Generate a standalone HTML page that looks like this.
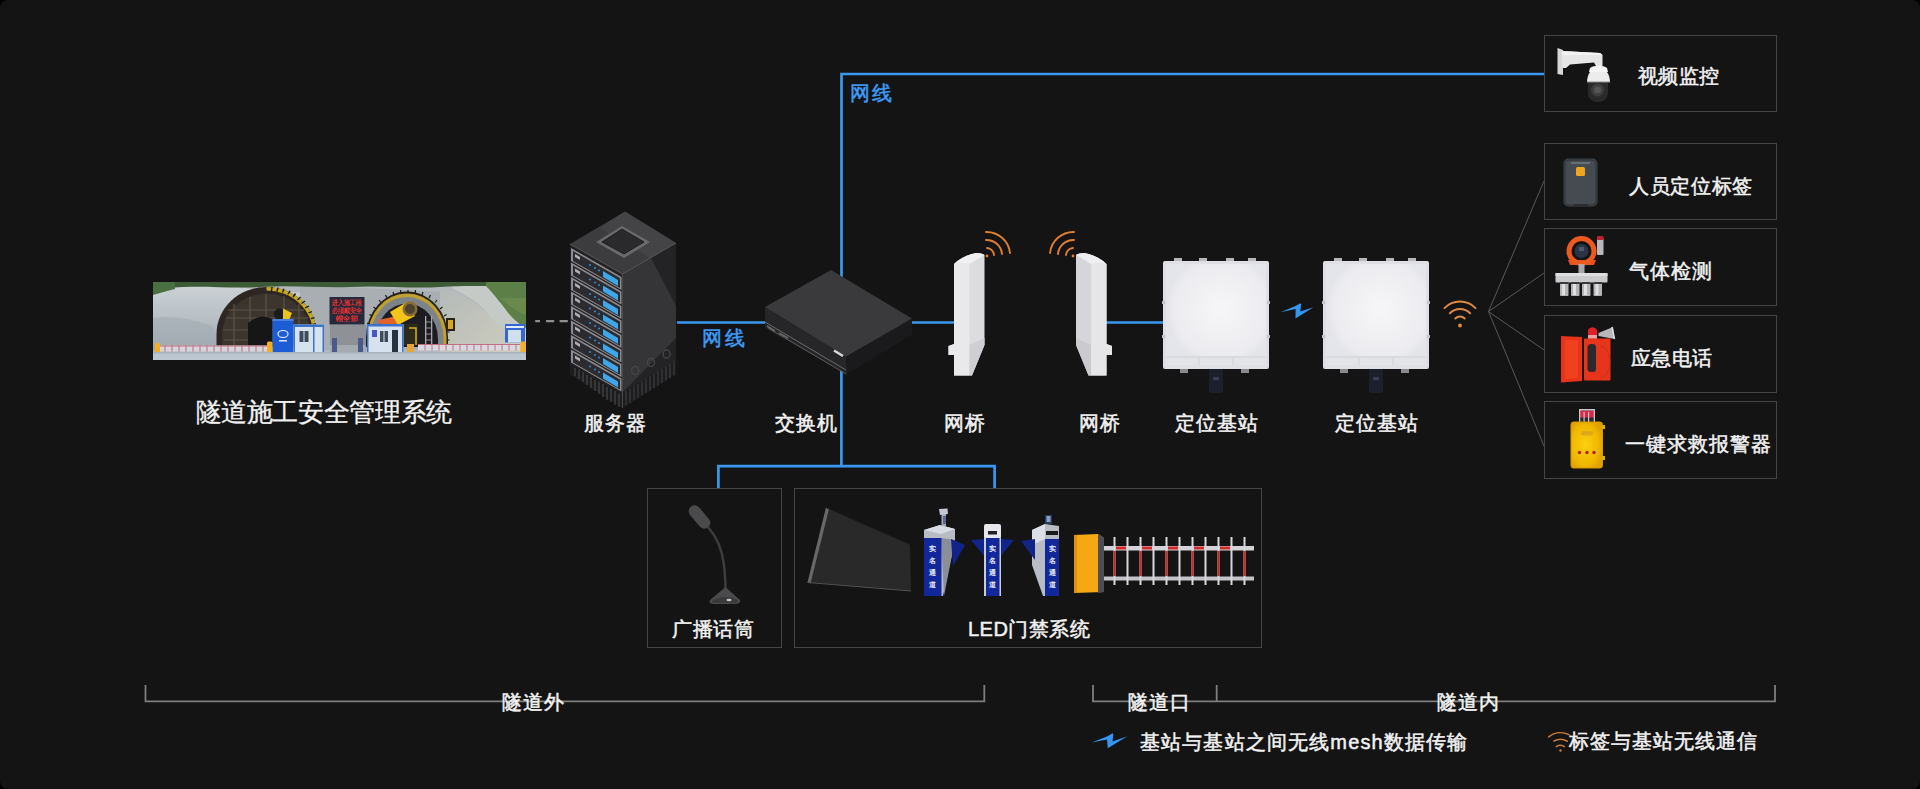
<!DOCTYPE html>
<html><head><meta charset="utf-8">
<style>
html{margin:0;padding:0;background:#000;width:1920px;height:789px;overflow:hidden}
body{margin:0;padding:0;background:#141414;width:1920px;height:789px;overflow:hidden;border-radius:8px}
body{position:relative;font-family:"Liberation Sans",sans-serif;color:#f2f2f2}
.a{position:absolute}
.t{position:absolute;white-space:nowrap;font-size:20px;line-height:1;letter-spacing:1.5px;font-weight:500;-webkit-text-stroke:0.5px currentColor}
.box{position:absolute;border:1.5px solid #454545;box-sizing:border-box}
svg{position:absolute;left:0;top:0}
</style></head><body>
<svg width="1920" height="789" viewBox="0 0 1920 789">
  <!-- blue network lines -->
  <g stroke="#3a98f0" stroke-width="2.7" fill="none">
    <path d="M841.5 282 V74 H1544"/>
    <path d="M677 322.5 H766"/>
    <path d="M911 322.5 H955"/>
    <path d="M1106 322.5 H1163"/>
    <path d="M841.4 360 V466.2 M718.4 488 V466.2 H994.6 V488"/>
  </g>
  <!-- dashed -->
  <path d="M535.2 321.2 H540 M546 321.2 H554.2 M559.6 321.2 H567.8" stroke="#8e8e8e" stroke-width="2.2"/>
  <!-- fan lines -->
  <g stroke="#5a5a5a" stroke-width="1" fill="none">
    <path d="M1488.5 311.5 L1544 181 M1488.5 311.5 L1544 273 M1488.5 311.5 L1544 350 M1488.5 311.5 L1544 446"/>
  </g>
  <!-- brackets -->
  <g stroke="#7e7e7e" stroke-width="1.8" fill="none">
    <path d="M145.5 685 V701.3 H984.3 V685"/>
    <path d="M1093 685 V701.3 H1775 V685 M1216.7 685 V701.3"/>
  </g>
</svg>


<!-- DEVICES -->
<svg width="1920" height="789" viewBox="0 0 1920 789">
 <defs>
  <linearGradient id="bsg" x1="0" y1="0" x2="1" y2="1">
   <stop offset="0" stop-color="#f4f4f7"/><stop offset="0.5" stop-color="#ececf0"/><stop offset="1" stop-color="#e2e3e8"/>
  </linearGradient>
  <radialGradient id="bsr" cx="0.55" cy="0.45" r="0.55">
   <stop offset="0" stop-color="#f6f6f8"/><stop offset="0.85" stop-color="#ececf0"/><stop offset="1" stop-color="#e4e5ea"/>
  </radialGradient>
  <g id="bstation">
   <!-- top tabs -->
   <rect x="11" y="-3" width="8" height="4" fill="#b8b8bc"/>
   <rect x="36" y="-3" width="8" height="4" fill="#b8b8bc"/>
   <rect x="63" y="-3" width="8" height="4" fill="#b8b8bc"/>
   <rect x="85" y="-3" width="8" height="4" fill="#b8b8bc"/>
   <rect x="0" y="0" width="106" height="108" rx="2" fill="#dfe0e4"/>
   <rect x="3" y="3" width="100" height="101" fill="url(#bsr)"/>
   <rect x="3" y="95" width="100" height="9" fill="#e3e4e8"/>
   <path d="M4 96 H102 M36 96 V104 M70 96 V104" stroke="#cfd0d4" stroke-width="1"/>
   <rect x="-1" y="40" width="3" height="3" fill="#c4c4c8"/><rect x="-1" y="74" width="3" height="3" fill="#c4c4c8"/>
   <rect x="104" y="40" width="3" height="3" fill="#c4c4c8"/><rect x="104" y="74" width="3" height="3" fill="#c4c4c8"/>
   <!-- bottom tabs -->
   <rect x="17" y="108" width="8" height="4" fill="#8a8a8e"/><rect x="78" y="108" width="8" height="4" fill="#8a8a8e"/>
   <rect x="46" y="108" width="14" height="24" rx="2" fill="#1d1f2a"/>
   <rect x="50" y="116" width="6" height="3" fill="#3a3e50"/>
  </g>
 </defs>
 <use href="#bstation" x="1163" y="261"/>
 <use href="#bstation" x="1323" y="261"/>


 <!-- tunnel photo -->
 <defs>
  <clipPath id="pc"><rect x="153" y="282" width="373" height="78"/></clipPath>
  <filter id="bl" filterUnits="userSpaceOnUse" x="140" y="270" width="400" height="100"><feGaussianBlur stdDeviation="0.7"/></filter>
  <linearGradient id="mtn" x1="0" y1="0" x2="0" y2="1">
   <stop offset="0" stop-color="#ccd2d6"/><stop offset="0.55" stop-color="#b6bec4"/><stop offset="1" stop-color="#9ea6ae"/>
  </linearGradient>
  <linearGradient id="cliff" x1="0" y1="0" x2="1" y2="1">
   <stop offset="0" stop-color="#b4bab8"/><stop offset="1" stop-color="#cfcdbf"/>
  </linearGradient>
 </defs>
 <g clip-path="url(#pc)">
  <g filter="url(#bl)">
  <rect x="153" y="282" width="373" height="78" fill="#b2b8bd"/>
  <!-- left rubble mound -->
  <path d="M150 292 C170 288 195 285 215 286 C240 287 255 289 270 292 L330 293 L330 350 H150 Z" fill="url(#mtn)"/>
  <path d="M153 318 C175 315 195 320 212 326 L222 345 H153 Z" fill="#a4acb3" opacity="0.6"/>
  <!-- middle rock wall -->
  <path d="M300 287 C330 286 360 288 380 289 L450 292 L450 350 H300 Z" fill="#a9aeb2"/>
  <path d="M330 325 H366 V347 H330 Z" fill="#8e9296"/>
  <!-- right cliff -->
  <path d="M440 287 C455 292 470 298 482 308 C495 320 510 330 526 334 V352 H440 Z" fill="url(#cliff)"/>
  <path d="M452 288 C468 296 480 303 490 316 C500 328 512 334 526 336 V282 H452 Z" fill="#c6cac6"/>
  <!-- vegetation -->
  <path d="M153 282 H526 V286 C500 287 470 285 440 287 C410 289 380 285 350 287 C320 288 290 285 260 287 C230 289 200 285 170 288 L153 289 Z" fill="#3a5a34"/>
  <path d="M153 282 H175 V289 C167 291 160 293 153 295 Z" fill="#4a7040"/>
  <path d="M486 282 H526 V328 C518 324 510 316 503 306 C496 297 490 290 486 286 Z" fill="#5c7e46"/>
  <path d="M500 298 C508 304 516 312 526 315 V298 Z" fill="#6a8a4e"/>
  <!-- tunnel 1 -->
  <path d="M216.5 347 V334 A50 47 0 0 1 316.5 334 V347 Z" fill="#2e2822"/>
  <path d="M266.5 287 A50 47 0 0 1 316.5 334 V347 H313 V334 A46.5 43.5 0 0 0 266.5 290.5 Z" fill="#c8a81e"/>
  <g stroke="#181612" stroke-width="1.3"><path d="M272 287 L271.5 291 M278 287.5 L277 291.5 M284 288.8 L282.5 292.5 M290 290.8 L288 294.3 M295.5 293.5 L293 297 M300.5 297 L297.5 300 M305 301 L301.5 303.5 M309 306 L305 308 M312 311.5 L308.5 313 M314.5 317.5 L311 318.5 M316 324 L312.5 324.5 M316.5 331 L313 331 M316.5 338 L313 338"/></g>
  <path d="M222 347 V335 A44 41 0 0 1 311 335 V347 Z" fill="#3a342e"/>
  <g stroke="#5e564a" stroke-width="1.1" fill="none"><path d="M226 318 H308 M223 330 H311 M234 304 V347 M250 297 V347 M266 294 V347 M284 296 V347 M299 304 V347 M224 340 H311 M228 310 H304"/></g>
  <path d="M248 347 V323 Q260 313 272 319 V347 Z" fill="#121216"/>
  <circle cx="279.5" cy="314" r="5.5" fill="#1a1a1a"/><path d="M283 308.5 L292 313 L289 320 L283 319 Z" fill="#eac414"/>
  <!-- LED sign -->
  <rect x="329.5" y="297" width="35" height="27.5" fill="#262a3a"/>
  <g font-family="Liberation Sans, sans-serif" font-size="7.2" font-weight="700" fill="#e83030">
   <text x="331.5" y="304.5" textLength="31" lengthAdjust="spacingAndGlyphs">进入施工段</text><text x="331.5" y="312.5" textLength="31" lengthAdjust="spacingAndGlyphs">必须戴安全</text><text x="336" y="320.5" textLength="22" lengthAdjust="spacingAndGlyphs">帽全部</text>
  </g>
  <!-- tunnel 2 -->
  <path d="M366 347 V337 A41 45.5 0 0 1 448 337 V347 Z" fill="#2a2418"/>
  <path d="M367.5 347 V337.5 A39.5 44 0 0 1 446.5 337.5 V347 Z" fill="#c0a030"/>
  <g stroke="#1a1a1a" stroke-width="1.2"><path d="M369.5 324 L367 323 M372 316 L369.5 314.5 M376 309 L373.5 307 M381 302.5 L379 300 M387 298 L385.5 295 M394 295 L393 292 M401 293.5 L400.5 290 M408 293 V290 M415 293.5 L415.5 290 M422 295 L423 292 M429 298 L430.5 295 M435 302.5 L437 300 M440 309 L442.5 307 M444 316 L446.5 314.5 M446.5 324 L449 323 M447 332 L449.5 332 M447 340 H449.5"/></g>
  <path d="M370.5 347 V338 A36.5 41 0 0 1 443.5 338 V347 Z" fill="#7c848a"/>
  <path d="M376 347 V339 A31 35.5 0 0 1 438 339 V347 Z" fill="#1c1e22"/>
  <path d="M378 320 L397 316 L401 324 L380 325 Z" fill="#e2642a"/>
  <path d="M390 312 L407 302 L415 316 L398 325 Z" fill="#f2c41a"/>
  <circle cx="410" cy="309" r="7.5" fill="#8a6c32"/><circle cx="410" cy="309" r="5" fill="#4e4230"/>
  <path d="M403 324 H418 V345 H403 Z" fill="#2e2a1c"/>
  <path d="M409 328 H416 V345" stroke="#d8b020" stroke-width="1.5" fill="none"/>
  <rect x="425" y="316" width="1.3" height="30" fill="#a8a8a8"/><rect x="431" y="316" width="1.3" height="30" fill="#a8a8a8"/>
  <g stroke="#a8a8a8" stroke-width="0.8"><path d="M425 322 H432 M425 328 H432 M425 334 H432 M425 340 H432"/></g>
  <rect x="446" y="318" width="9" height="13" fill="#2a2418"/><rect x="448" y="320" width="5" height="9" fill="#d8a820"/>
  <!-- containers -->
  <rect x="272.5" y="319" width="21" height="34" fill="#1e5cd4"/>
  <rect x="272.5" y="319" width="21" height="2" fill="#4a80e0"/>
  <ellipse cx="283" cy="334" rx="5" ry="3.5" fill="none" stroke="#e8eef8" stroke-width="1.2"/>
  <rect x="279" y="340" width="8" height="1.5" fill="#d8e4f8"/>
  <rect x="293.5" y="324.5" width="30.5" height="28.5" fill="#d6e2ee"/>
  <rect x="293.5" y="324.5" width="30.5" height="2.5" fill="#3a72cc"/>
  <rect x="293.5" y="324.5" width="1.5" height="28.5" fill="#3a72cc"/>
  <rect x="299.5" y="331" width="9" height="11" fill="#3e4c5a"/><rect x="303.5" y="331" width="1" height="11" fill="#d6e2ee"/>
  <rect x="313" y="327" width="1.5" height="26" fill="#3a72cc"/><rect x="322.5" y="327" width="1.5" height="26" fill="#3a72cc"/>
  <rect x="367" y="324" width="36.5" height="29" fill="#d6e2ee"/>
  <rect x="367" y="324" width="36.5" height="2.5" fill="#3a72cc"/>
  <rect x="367" y="324" width="1.5" height="29" fill="#3a72cc"/>
  <rect x="372" y="330" width="5" height="7" fill="#4a58c0"/>
  <rect x="380" y="331" width="8" height="11" fill="#3e4c5a"/><rect x="383.5" y="331" width="1" height="11" fill="#d6e2ee"/>
  <rect x="392" y="330" width="6" height="23" fill="#283040"/>
  <rect x="402" y="326" width="1.5" height="27" fill="#3a72cc"/>
  <rect x="505" y="324" width="20" height="18.5" fill="#3566d4"/>
  <rect x="508" y="330" width="13" height="12.5" fill="#cfe0f0"/>
  <rect x="506" y="326" width="18" height="2" fill="#e0ecf8"/>
  <!-- fences -->
  <rect x="160" y="345.5" width="110" height="6" fill="#d6d4dc"/>
  <g stroke="#b86070" stroke-width="0.9"><path d="M165 345.5 V351.5 M172 345.5 V351.5 M179 345.5 V351.5 M186 345.5 V351.5 M193 345.5 V351.5 M200 345.5 V351.5 M207 345.5 V351.5 M214 345.5 V351.5 M221 345.5 V351.5 M228 345.5 V351.5 M235 345.5 V351.5 M242 345.5 V351.5 M249 345.5 V351.5 M256 345.5 V351.5 M263 345.5 V351.5"/></g>
  <rect x="160" y="345.5" width="110" height="1" fill="#c07080"/>
  <rect x="418" y="344" width="102" height="6.5" fill="#dad8e0"/>
  <g stroke="#c06878" stroke-width="0.9"><path d="M425 344 V350.5 M432 344 V350.5 M439 344 V350.5 M446 344 V350.5 M453 344 V350.5 M460 344 V350.5 M467 344 V350.5 M474 344 V350.5 M481 344 V350.5 M488 344 V350.5 M495 344 V350.5 M502 344 V350.5 M509 344 V350.5 M516 344 V350.5"/></g>
  <rect x="418" y="344" width="102" height="1" fill="#c07080"/>
  <rect x="330" y="345" width="36" height="7" fill="#a4aab0"/>
  <rect x="332" y="338" width="5" height="14" fill="#4a5a8a"/><rect x="358" y="338" width="5" height="14" fill="#4a5a8a"/>
  <rect x="155" y="343" width="5" height="12" rx="1.5" fill="#f0b020"/>
  <rect x="267" y="341.5" width="5.5" height="13" rx="1.5" fill="#f0b020"/>
  <rect x="520.5" y="341.5" width="5.5" height="12.5" rx="1.5" fill="#f0b020"/>
  <rect x="407" y="344" width="7" height="10" fill="#e0a838"/>
  <!-- ground -->
  <rect x="153" y="353" width="373" height="7" fill="#bcc6d0"/>
  <rect x="153" y="352" width="373" height="1.5" fill="#a8b2bc"/>
  </g>
 </g>
 <!-- server -->
 <g id="server">
  <!-- left face -->
  <path d="M570 244 L622.5 274 L622.5 408 L570 374 Z" fill="#222224"/>
  <!-- right face -->
  <path d="M622.5 274 L676 243 L676 374 L622.5 408 Z" fill="#232325"/>
  <path d="M622.5 274 L651 258 L676 306 L676 338 L624 391 L622.5 391 Z" fill="#353537"/>
  <path d="M622.5 393 L676 361 L676 374 L622.5 408 Z" fill="#1c1c1e"/>
  <g stroke="#434345" stroke-width="1"><path d="M626 391 V405 M630 389 V403 M634 386.5 V400.5 M638 384 V398 M642 381.5 V395.5 M646 379 V393 M650 376.5 V390.5 M654 374 V388 M658 371.5 V385.5 M662 369 V383 M666 366.5 V380.5 M670 364 V378 M674 361.5 V375.5"/></g>
  <!-- top face -->
  <path d="M625 211.5 L676 243 L622.5 274 L570 244 Z" fill="#3c3c3e"/>
  <path d="M625 211.5 L676 243 L650 258 L600 228 Z" fill="#444446"/>
  <path d="M622 226 L650 242 L624 258 L596 242 Z" fill="#6a6a6c"/>
  <path d="M622 229 L644 242 L624 254 L602 242 Z" fill="#2a2a2c" stroke="#1e1e20" stroke-width="1" stroke-linejoin="round"/>
  <!-- rack units -->
  <g id="ru">
   <path d="M571 248 L621.5 277 L621.5 290 L571 261 Z" fill="#8c8c90"/>
   <path d="M573 251 L620 278 L620 288 L573 261 Z" fill="#2c2c30"/>
   <path d="M575 254 L580 257 L580 260 L575 257 Z" fill="#b0b0b4"/>
   <path d="M603 271 L618 280 L618 286 L603 277 Z" fill="#3ea6ea"/>
   <circle cx="590" cy="265" r="1" fill="#2f8fd8"/><circle cx="595" cy="268" r="1" fill="#2f8fd8"/><circle cx="599" cy="270.5" r="1" fill="#2f8fd8"/>
  </g>
  <use href="#ru" y="14.5"/><use href="#ru" y="29"/><use href="#ru" y="43.5"/><use href="#ru" y="58"/><use href="#ru" y="72.5"/><use href="#ru" y="87"/><use href="#ru" y="101.5"/>
  <!-- vent grill -->
  <path d="M571 365 L621.5 394 L621.5 407 L571 373 Z" fill="#1c1c1e"/>
  <g stroke="#505052" stroke-width="1">
   <path d="M575 368 V376 M579 370 V379 M583 372 V382 M587 375 V385 M591 377 V388 M595 380 V391 M599 382 V394 M603 384 V397 M607 387 V400 M611 389 V402 M615 391 V405 M619 394 V407"/>
  </g>
  <!-- circles on right face -->
  <g fill="none" stroke="#4a4a4c" stroke-width="1.2">
   <ellipse cx="635.2" cy="370.5" rx="3.5" ry="4.2"/><ellipse cx="651" cy="362.5" rx="3.5" ry="4.2"/><ellipse cx="666.6" cy="354" rx="3.5" ry="4.2"/>
  </g>
  <path d="M622.5 274 V408" stroke="#4a4a4c" stroke-width="1"/>
  <path d="M570 244 L622.5 274 L676 243" stroke="#58585a" stroke-width="1" fill="none"/>
 </g>
 <!-- switch -->
 <g id="switch">
  <path d="M765 307 L846 356.5 L847 374 L765 328 Z" fill="#262628"/>
  <path d="M846 356.5 L912 318.5 L912 334.5 L847 374 Z" fill="#1a1a1c"/>
  <path d="M831 270 L912 318.5 L846 356.5 L765 307 Z" fill="#3a3a3c"/>
  <path d="M765 322 L846 370" stroke="#6a6a6a" stroke-width="1"/>
  <path d="M768 328 L846 374" stroke="#5a5a5a" stroke-width="1"/>
  <path d="M834 350.5 L843 356" stroke="#d8d8d8" stroke-width="2.5"/>
  <path d="M767 326 L775 331 M779 333 L788 338" stroke="#6a6a6a" stroke-width="1.5"/>
 </g>

 <!-- camera -->
 <g id="camera">
  <path d="M1557.5 48 L1563 50 L1563 75 L1557.5 74 Z" fill="#d8d8d8"/>
  <path d="M1562 51 L1600 53 L1602.5 55 L1602.5 66 L1596 66 L1594 62.5 L1570 64.5 L1566 68 L1562 68 Z" fill="#e6e6e6"/>
  <path d="M1562 51 L1600 53 L1602.5 55 L1562 55 Z" fill="#f2f2f2"/>
  <path d="M1587 82 A11.5 15 0 0 1 1610 82 Z" fill="#ececec"/>
  <path d="M1590 68 A10 5 0 0 1 1607 68 L1608 72 L1589 72 Z" fill="#f4f4f4"/>
  <path d="M1588 82 H1608 V94 A10 8 0 0 1 1588 94 Z" fill="#2a2a2a"/>
  <circle cx="1597.5" cy="90" r="6.5" fill="#3e3e3e"/>
  <circle cx="1597.5" cy="90" r="3.5" fill="#555"/>
  <path d="M1587 82 H1610" stroke="#8a8a8a" stroke-width="1"/>
 </g>
 <!-- tag -->
 <g id="tag">
  <rect x="1563.5" y="158.5" width="34" height="48" rx="5" fill="#3e4449"/>
  <rect x="1565" y="160" width="31" height="45" rx="4" fill="#454b50" stroke="#2a2e31" stroke-width="0.8"/>
  <path d="M1571 163 H1590" stroke="#7a8a90" stroke-width="1.2"/>
  <rect x="1576" y="167" width="9" height="9" rx="1.5" fill="#f0a51e"/>
  <rect x="1574" y="204" width="14" height="2.5" fill="#2a2e31"/>
 </g>
 <!-- gas detector -->
 <g id="gas">
  <rect x="1597" y="238" width="6.5" height="17" rx="1" fill="#b8b8bc"/>
  <rect x="1597" y="236" width="6.5" height="4" rx="1" fill="#c02030"/>
  <path d="M1568 260 H1596 L1594 265 H1570 Z" fill="#e8501e"/>
  <circle cx="1581.5" cy="251" r="12.5" fill="none" stroke="#ec5a20" stroke-width="5"/>
  <circle cx="1581.5" cy="251" r="7" fill="#2a3444"/>
  <rect x="1579" y="247" width="5" height="4" fill="#4a5a70"/>
  <rect x="1578.5" y="264" width="6" height="9" fill="#a8a8aa"/>
  <rect x="1555.5" y="273" width="52" height="9.5" rx="1" fill="#cacacc"/>
  <rect x="1555.5" y="273" width="52" height="3" fill="#dedee0"/>
  <g fill="#b4b4b6"><rect x="1560" y="282" width="8.5" height="14" rx="1"/><rect x="1571" y="282" width="8.5" height="14" rx="1"/><rect x="1582" y="282" width="8.5" height="14" rx="1"/><rect x="1593.5" y="282" width="8.5" height="14" rx="1"/></g>
  <g fill="#e0e0e2"><rect x="1562" y="284" width="3" height="11"/><rect x="1573" y="284" width="3" height="11"/><rect x="1584" y="284" width="3" height="11"/><rect x="1595.5" y="284" width="3" height="11"/></g>
  <g fill="#3a3a3c"><rect x="1560" y="282" width="8.5" height="2"/><rect x="1571" y="282" width="8.5" height="2"/><rect x="1582" y="282" width="8.5" height="2"/><rect x="1593.5" y="282" width="8.5" height="2"/></g>
 </g>
 <!-- emergency phone -->
 <g id="phone">
  <path d="M1561 336 L1582 337 L1582 381 L1561 382.5 Z" fill="#e83318"/>
  <path d="M1565 340 L1578 340.5 L1578 378 L1565 379 Z" fill="#f04020"/>
  <rect x="1584" y="338.5" width="26.5" height="42" rx="1" fill="#e8341a"/>
  <rect x="1587.5" y="344" width="8.5" height="28" rx="3.5" fill="#2a2a2e"/>
  <path d="M1600 346 A10 16 0 0 1 1600 378" fill="none" stroke="#c8301c" stroke-width="1"/>
  <path d="M1588 330 A5 5 0 0 1 1597 330 V338.5 H1588 Z" fill="#e02028"/>
  <rect x="1588" y="335" width="9" height="3.5" fill="#f0a0a0"/>
  <path d="M1598.5 333 L1613 327 L1614.5 339 L1598.5 336 Z" fill="#b8b8bc"/>
  <path d="M1612 327 L1614.5 339" stroke="#e0e0e0" stroke-width="1.5"/>
 </g>
 <!-- alarm -->
 <g id="alarm">
  <defs><radialGradient id="ylg" cx="0.45" cy="0.5" r="0.6"><stop offset="0" stop-color="#fcd010"/><stop offset="0.7" stop-color="#f0b800"/><stop offset="1" stop-color="#e0a000"/></radialGradient></defs>
  <rect x="1579" y="409" width="16" height="13.5" rx="1.5" fill="#2a2a2c"/>
  <rect x="1579" y="410.5" width="16" height="7" fill="#d82848"/>
  <g fill="#c8c8cc"><rect x="1579" y="409" width="16" height="1.5"/><rect x="1579" y="409" width="1.3" height="13.5"/><rect x="1583.5" y="412" width="1.2" height="10.5"/><rect x="1588" y="412" width="1.2" height="10.5"/><rect x="1593.7" y="409" width="1.3" height="13.5"/></g>
  <rect x="1571" y="422" width="31.5" height="46" rx="2.5" fill="url(#ylg)"/>
  <rect x="1571" y="422" width="31.5" height="46" rx="2.5" fill="none" stroke="#d89800" stroke-width="1"/>
  <rect x="1581" y="431" width="12" height="4.5" rx="2.2" fill="#dca818"/>
  <g fill="#b82020"><circle cx="1579.5" cy="452.5" r="1.7"/><circle cx="1587" cy="452.5" r="1.7"/><circle cx="1594" cy="452.5" r="1.7"/></g>
  <rect x="1602" y="425" width="3" height="4" fill="#e0b000"/><rect x="1602" y="456" width="3" height="4" fill="#e0b000"/>
 </g>

 <!-- mic -->
 <g id="mic">
  <path d="M708 527 C716 536 722 548 724 565 C725 575 725.5 582 725.5 590" fill="none" stroke="#3e3e40" stroke-width="2.4"/>
  <rect x="693.5" y="503.5" width="12" height="27" rx="6" transform="rotate(-40 699.5 517)" fill="#4a4a4c"/>
  <path d="M725.5 587 L740 600 Q741 604 735 604 L714 604 Q708 604 710 600 Z" fill="#4a4a4c"/>
  <path d="M713 600 Q725 594 738 600 L737 603 H712 Z" fill="#3a3a3c"/>
  <ellipse cx="729" cy="600" rx="2.5" ry="1.2" fill="#c8c8c8"/>
 </g>
 <!-- LED screen -->
 <g id="led">
  <path d="M826 507.5 L910 544.5 L911 591 L807.5 582.5 Z" fill="#292929"/>
  <path d="M826 507.5 L829 509 L810.5 583.5 L807.5 582.5 Z" fill="#68686a"/>
  <path d="M807.5 582.5 L911 591" stroke="#505052" stroke-width="1.2"/>
  <path d="M826 507.5 L910 544.5" stroke="#1c1c1c" stroke-width="1"/>
 </g>
 <!-- gates -->
 <g id="gates">
  <!-- gate1 -->
  <path d="M924 530 L940 525 L955 529 L955 540 L943 596 L941 596 L941 538 L924 538 Z" fill="#b8bcc4"/>
  <path d="M941 538 L955 540 L944 596 Z" fill="#8a8e98"/>
  <path d="M924 530 L940 525 L955 529 L941 534 Z" fill="#d8dce4"/>
  <rect x="941.5" y="512" width="4.5" height="14" fill="#a4a8b0"/><path d="M939 509 L947.5 508.5 L948 514 L940 515 Z" fill="#c4c8d0"/><rect x="943" y="516" width="3" height="8" fill="#5a6a90"/>
  <path d="M951 539 L965 545 L953 566 Z" fill="#12238a"/>
  <rect x="924" y="538" width="17.5" height="58" fill="#12289a"/>
  <!-- gate2 -->
  <rect x="984" y="524" width="17" height="15" rx="2" fill="#e8e8ec"/>
  <rect x="988" y="531" width="9" height="3.5" fill="#222"/>
  <path d="M985 539 L971 540 L985 557 Z" fill="#12238a"/>
  <path d="M1000 539 L1014 540 L1000 557 Z" fill="#12238a"/>
  <rect x="984" y="538" width="17" height="58" fill="#c8ccd4"/>
  <rect x="986" y="538" width="13.5" height="58" fill="#12289a"/>
  <!-- gate3 -->
  <path d="M1032 530 L1045 524 L1059 526 L1059 539 L1045 539 L1045 596 L1043 596 L1032 565 Z" fill="#b8bcc4"/>
  <path d="M1032 530 L1045 524 L1045 539 L1032 545 Z" fill="#dcdfe6"/>
  <rect x="1045" y="515" width="7" height="9" fill="#2a3a5a"/><rect x="1046.5" y="516" width="4" height="6" fill="#8aa0c8"/>
  <rect x="1046" y="531" width="12" height="4" fill="#1a1a1a"/>
  <path d="M1035 539 L1021 541 L1035 560 Z" fill="#12238a"/>
  <rect x="1045" y="539" width="14" height="57" fill="#12289a"/>
  <g font-family="Liberation Sans, sans-serif" font-size="7" font-weight="700" fill="#e8ecf8" text-anchor="middle">
   <text x="932.5" y="551">实</text><text x="932.5" y="563">名</text><text x="932.5" y="575">通</text><text x="932.5" y="587">道</text>
   <text x="992.5" y="551">实</text><text x="992.5" y="563">名</text><text x="992.5" y="575">通</text><text x="992.5" y="587">道</text>
   <text x="1052" y="551">实</text><text x="1052" y="563">名</text><text x="1052" y="575">通</text><text x="1052" y="587">道</text>
  </g>
 </g>
 <!-- barrier -->
 <g id="barrier">
  <path d="M1074 535 L1098 534 L1104 538 L1104 592 L1074 593 Z" fill="#f5a814"/>
  <path d="M1098 534 L1104 538 L1104 592 L1098 593 Z" fill="#4a4e58"/>
  <rect x="1074" y="535" width="3" height="58" fill="#e09010"/>
  <rect x="1104" y="546" width="150" height="4.5" fill="#d4d4d8"/>
  <rect x="1104" y="576.5" width="150" height="4" fill="#c4c4c8"/>
  <g fill="#d02a2a"><rect x="1116" y="546.5" width="10" height="3"/><rect x="1142" y="546.5" width="10" height="3"/><rect x="1168" y="546.5" width="10" height="3"/><rect x="1194" y="546.5" width="10" height="3"/><rect x="1220" y="546.5" width="10" height="3"/></g>
  <g fill="#d8d8dc"><rect x="1113.5" y="537" width="2" height="48"/><rect x="1126.5" y="537" width="2" height="48"/><rect x="1139.5" y="537" width="2" height="48"/><rect x="1152.5" y="537" width="2" height="48"/><rect x="1165.5" y="537" width="2" height="48"/><rect x="1178.5" y="537" width="2" height="48"/><rect x="1191.5" y="537" width="2" height="48"/><rect x="1204.5" y="537" width="2" height="48"/><rect x="1217.5" y="537" width="2" height="48"/><rect x="1230.5" y="537" width="2" height="48"/><rect x="1243.5" y="537" width="2" height="48"/></g>
  <g fill="#c82a2a"><rect x="1113.5" y="551" width="2" height="25"/><rect x="1139.5" y="551" width="2" height="25"/><rect x="1165.5" y="551" width="2" height="25"/><rect x="1191.5" y="551" width="2" height="25"/><rect x="1217.5" y="551" width="2" height="25"/><rect x="1243.5" y="551" width="2" height="25"/></g>
 </g>
 <!-- legend icons -->
 <path d="M1091.7 742.6 L1107.5 736.2 L1112.6 733.3 L1113.3 734.5 L1112.5 741.4 L1127.3 736.2 L1107.8 748.3 L1107 739.6 Z" fill="#3396f2"/>
 <g stroke="#c8783a" stroke-width="1.6" fill="none" stroke-linecap="round">
  <path d="M1548.7 736.8 A19.6 19.6 0 0 1 1569 734.6"/>
  <path d="M1554 741 A13.5 13.5 0 0 1 1567.3 741.2"/>
  <path d="M1556.3 746.6 A7.2 7.2 0 0 1 1564.3 746.6"/>
 </g>
 <circle cx="1560.5" cy="750.5" r="1.2" fill="#d08040"/>
 <!-- bridges -->
 <g id="bridge1">
  <path d="M954 264 Q962 256 976 253 Q982 253 984.5 255 L984.5 345 L972 375.5 L954 375.5 L954 355 L948.5 355 L948.5 346 L954 344 Z" fill="#dcdcdf"/>
  <path d="M954 264 Q958 262 969.5 264 L969.5 375.5 L954 375.5 L954 355 L948.5 355 L948.5 346 L954 344 Z" fill="#e9e9eb"/>
  <path d="M954 264 Q962 256 976 253 Q982 253 984.5 255 L969.5 264 Q958 262 954 264 Z" fill="#f1f1f3"/>
  <path d="M969.5 345 L984.5 338 L984.5 345 L972 375.5 L969.5 375.5 Z" fill="#cfcfd3"/>
 </g>
 <g transform="translate(2060.5 0) scale(-1 1)">
  <path d="M954 264 Q962 256 976 253 Q982 253 984.5 255 L984.5 345 L972 375.5 L954 375.5 L954 355 L948.5 355 L948.5 346 L954 344 Z" fill="#d6d6da"/>
  <path d="M954 264 Q958 262 969.5 264 L969.5 375.5 L954 375.5 L954 355 L948.5 355 L948.5 346 L954 344 Z" fill="#e6e6e9"/>
  <path d="M954 264 Q962 256 976 253 Q982 253 984.5 255 L969.5 264 Q958 262 954 264 Z" fill="#eeeef0"/>
  <path d="M969.5 345 L984.5 338 L984.5 345 L972 375.5 L969.5 375.5 Z" fill="#cbcbcf"/>
 </g>
 <!-- wifi arcs bridges -->
 <g stroke="#e07f30" stroke-width="1.9" fill="none" stroke-linecap="round">
  <path d="M987 248 A7.5 7.5 0 0 1 994 255"/>
  <path d="M986 240 A15.5 15.5 0 0 1 1002 254"/>
  <path d="M986 232 A23.5 23.5 0 0 1 1010 253"/>
  <path d="M1073 248 A7.5 7.5 0 0 0 1066 255"/>
  <path d="M1074 240 A15.5 15.5 0 0 0 1058 254"/>
  <path d="M1074 232 A23.5 23.5 0 0 0 1050 253"/>
 </g>
 <circle cx="987" cy="256" r="1.4" fill="#e07f30"/>
 <circle cx="1073" cy="256" r="1.4" fill="#e07f30"/>
 <!-- lightning between base stations -->
 <path d="M1280.6 312.3 L1295.5 306 L1300.3 303.3 L1301.2 304.5 L1300.2 311.4 L1313.5 307.2 L1295.5 318.5 L1295.6 309 Z" fill="#3396f2"/>
 <!-- wifi after base station 2 -->
 <g stroke="#e08a40" stroke-width="2" fill="none" stroke-linecap="round">
  <path d="M1444.5 308.1 A21.5 21.5 0 0 1 1475.5 308.1"/>
  <path d="M1449.9 313.3 A14 14 0 0 1 1470.1 313.3"/>
  <path d="M1455.3 318.5 A6.5 6.5 0 0 1 1464.7 318.5"/>
 </g>
 <circle cx="1460" cy="325.5" r="1.9" fill="#e08a40"/>

</svg>

<!-- boxes right -->
<div class="box" style="left:1543.6px;top:34.75px;width:233.1px;height:77.7px"></div>
<div class="box" style="left:1543.6px;top:142.65px;width:233.1px;height:77.6px"></div>
<div class="box" style="left:1543.6px;top:228.05px;width:233.1px;height:78.2px"></div>
<div class="box" style="left:1543.6px;top:314.95px;width:233.1px;height:78.3px"></div>
<div class="box" style="left:1543.6px;top:400.85px;width:233.1px;height:77.8px"></div>
<!-- bottom boxes -->
<div class="box" style="left:646.6px;top:487.65px;width:135.85px;height:160.5px"></div>
<div class="box" style="left:793.75px;top:487.65px;width:468.5px;height:160.5px"></div>

<!-- text -->
<div class="t" style="left:195.5px;top:400px;font-size:25.6px;letter-spacing:-0.35px;font-weight:400;-webkit-text-stroke:0.3px #f2f2f2">隧道施工安全管理系统</div>
<div class="t" style="left:583.5px;top:412.5px;letter-spacing:1.2px">服务器</div>
<div class="t" style="left:774.5px;top:412.5px;letter-spacing:1.2px">交换机</div>
<div class="t" style="left:944px;top:412.5px;letter-spacing:1.2px">网桥</div>
<div class="t" style="left:1079px;top:412.5px;letter-spacing:1.2px">网桥</div>
<div class="t" style="left:1174.5px;top:412.5px;letter-spacing:1.2px">定位基站</div>
<div class="t" style="left:1334.5px;top:413px;letter-spacing:1.2px">定位基站</div>
<div class="t" style="left:850px;top:83px;color:#3d9cf5;letter-spacing:2px">网线</div>
<div class="t" style="left:702px;top:328px;color:#3d9cf5;letter-spacing:3px">网线</div>

<div class="t" style="left:1637.5px;top:66px;letter-spacing:0.5px">视频监控</div>
<div class="t" style="left:1629px;top:175.5px;letter-spacing:0.7px">人员定位标签</div>
<div class="t" style="left:1629px;top:261px;letter-spacing:0.9px">气体检测</div>
<div class="t" style="left:1630.5px;top:348px;letter-spacing:0.5px">应急电话</div>
<div class="t" style="left:1624.5px;top:434px;letter-spacing:1.0px">一键求救报警器</div>

<div class="t" style="left:672px;top:619px;letter-spacing:0.5px">广播话筒</div>
<div class="t" style="left:968px;top:619px;letter-spacing:0.5px">LED门禁系统</div>

<div class="t" style="left:501.5px;top:691.5px;letter-spacing:1.2px">隧道外</div>
<div class="t" style="left:1127.5px;top:692px;letter-spacing:1.2px">隧道口</div>
<div class="t" style="left:1436.5px;top:692px;letter-spacing:1.2px">隧道内</div>

<div class="t" style="left:1140px;top:731.5px;letter-spacing:1.15px">基站与基站之间无线mesh数据传输</div>
<div class="t" style="left:1568.5px;top:731px;letter-spacing:1.0px">标签与基站无线通信</div>

</body></html>
